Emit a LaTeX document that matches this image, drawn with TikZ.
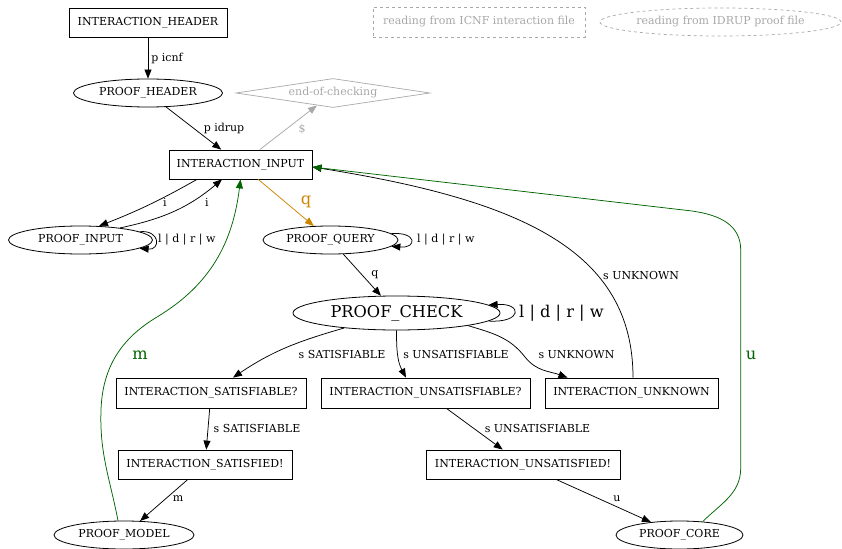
\documentclass[tikz,border=0pt]{standalone}
\usepackage{fontspec}
\setmainfont{DejaVu Serif}
\usetikzlibrary{shapes.geometric,arrows.meta,calc}
\definecolor{gry}{HTML}{A8A8A8}
\definecolor{orng}{HTML}{CD8500}
\definecolor{grn}{HTML}{006400}
\begin{document}
\begin{tikzpicture}[x=1pt,y=-1pt,
  every node/.style={font=\fontsize{11}{13}\selectfont, inner sep=0pt},
  box/.style={draw, rectangle, minimum height=29pt, line width=0.8pt},
  oval/.style={draw, ellipse, minimum height=28pt, line width=0.8pt},
  lbl/.style={font=\fontsize{11}{13}\selectfont},
  big/.style={font=\fontsize{16.2}{18}\selectfont},
  edge/.style={-{Triangle[length=9pt,width=7pt]}, line width=0.75pt},
  legend/.style={draw=gry, dashed, text=gry, line width=0.7pt}
  ]
\path[use as bounding box] (0,0) rectangle (842,548);

% nodes
\node[box, minimum width=158pt] (ih) at (148,22.5) {INTERACTION\_HEADER};
\node[oval, minimum width=149pt] (ph) at (148,93) {PROOF\_HEADER};
\node[draw=gry, text=gry, diamond, aspect=6.7, minimum width=194pt, minimum height=29pt, line width=0.7pt] (eoc) at (333,93) {end-of-checking};
\node[legend, rectangle, minimum width=212pt, minimum height=30pt] (lg1) at (479,22) {reading from ICNF interaction file};
\node[legend, ellipse, minimum width=241pt, minimum height=28pt] (lg2) at (720.5,22) {reading from IDRUP proof file};
\node[box, minimum width=143pt] (ii) at (240.5,164.5) {INTERACTION\_INPUT};
\node[oval, minimum width=144pt] (pi) at (80.5,240) {PROOF\_INPUT};
\node[oval, minimum width=135pt] (pq) at (330.5,240) {PROOF\_QUERY};
\node[oval, minimum width=207pt, minimum height=34pt, big] (pc) at (396.5,313) {PROOF\_CHECK};
\node[box, minimum width=190pt, minimum height=30pt] (isq) at (211,393) {INTERACTION\_SATISFIABLE?};
\node[box, minimum width=209pt, minimum height=30pt] (iuq) at (425.5,393) {INTERACTION\_UNSATISFIABLE?};
\node[box, minimum width=173pt, minimum height=30pt] (iun) at (631.5,393) {INTERACTION\_UNKNOWN};
\node[box, minimum width=174pt] (isd) at (205,464.5) {INTERACTION\_SATISFIED!};
\node[box, minimum width=194pt] (iud) at (523,464.5) {INTERACTION\_UNSATISFIED!};
\node[oval, minimum width=140pt] (pm) at (124,535) {PROOF\_MODEL};
\node[oval, minimum width=127pt] (pco) at (679.5,535) {PROOF\_CORE};

% helper coordinates
\coordinate (mA) at (101,410);
\coordinate (mB) at (157,317);
\coordinate (uA) at (740.7,468);
\coordinate (uB) at (740.7,250);
\coordinate (uC) at (692,211);
\coordinate (kA) at (525,357);

% edges
\draw[edge] (ih) -- (ph) node[lbl, pos=0.5, right=3pt] (l1) {p icnf};
\draw[edge] (ph) -- (ii);
\node[lbl] (l2) at (224,128) {p idrup};
\draw[edge, draw=gry, -{Triangle[length=9pt,width=7pt,fill=gry]}] (ii) -- (eoc);
\node[lbl, text=gry] (l3) at (302,129) {\$};
\draw[edge] ([xshift=-43.5pt]ii.south) to[bend left=4] (pi.37);
\node[lbl] (l4) at (165,202) {i};
\draw[edge] (pi.17) to[out=12, in=-140] ([xshift=-18.5pt]ii.south);
\node[lbl] (l5) at (207,202) {i};
\draw[edge] (pi.8) .. controls +(21,-2) and +(21,2) .. (pi.-8);
\node[lbl, anchor=west] (l6) at (158,240) {l | d | r | w};
\draw[edge, draw=orng, -{Triangle[length=9pt,width=7pt,fill=orng]}] (ii) -- (pq);
\node[big, text=orng] (l7) at (306,202) {q};
\draw[edge] (pq.6) .. controls +(26,-2) and +(26,2) .. (pq.-6);
\node[lbl, anchor=west] (l8) at (417,240) {l | d | r | w};
\draw[edge] (pq) -- (pc);
\node[lbl] (l9) at (375,275) {q};
\draw[edge] (pc.-5) .. controls +(34,2) and +(34,-2) .. (pc.5);
\node[big, anchor=west] (l10) at (519,313) {l | d | r | w};
\draw[edge] (pc.-164.7) to[out=-164, in=34] ([xshift=22pt]isq.north);
\node[lbl] (l11) at (342,354) {s SATISFIABLE};
\draw[edge] (pc.south) to[out=-90, in=118] ([xshift=-19.5pt]iuq.north);
\node[lbl] (l12) at (456,354) {s UNSATISFIABLE};
\draw[edge] (pc.-10) to[out=-17, in=128] (kA) to[out=-52, in=160] ([xshift=-64pt]iun.north);
\node[lbl] (l13) at (576.5,354) {s UNKNOWN};
\draw[edge] ([xshift=1.5pt]iun.north) .. controls (633,250) and (520,200) .. ([yshift=-2.5pt]ii.east);
\node[lbl, anchor=west] (l14) at (603,275) {s UNKNOWN};
\draw[edge] (isq) -- (isd);
\node[lbl] (l15) at (257,428) {s SATISFIABLE};
\draw[edge] (iuq) -- (iud);
\node[lbl] (l16) at (537.5,428) {s UNSATISFIABLE};
\draw[edge] (isd) -- (pm);
\node[lbl] (l17) at (178,499) {m};
\draw[edge] (iud) -- (pco);
\node[lbl] (l18) at (617,499) {u};
\draw[edge, draw=grn, -{Triangle[length=9pt,width=7pt,fill=grn]}] ([xshift=-6pt]pm.north) to[out=101, in=-92] (mA) to[out=88, in=-149] (mB) to[out=31, in=-97] (ii.south);
\node[big, text=grn] (l19) at (140,355) {m};
\draw[edge, draw=grn, -{Triangle[length=9pt,width=7pt,fill=grn]}] (pco.30) to[out=45, in=-90] (uA) -- (uB) .. controls (740.7,225) and (720,215) .. (uC) -- ([yshift=-2.5pt]ii.east);
\node[big, text=grn] (l20) at (751,355) {u};
\end{tikzpicture}
\end{document}
